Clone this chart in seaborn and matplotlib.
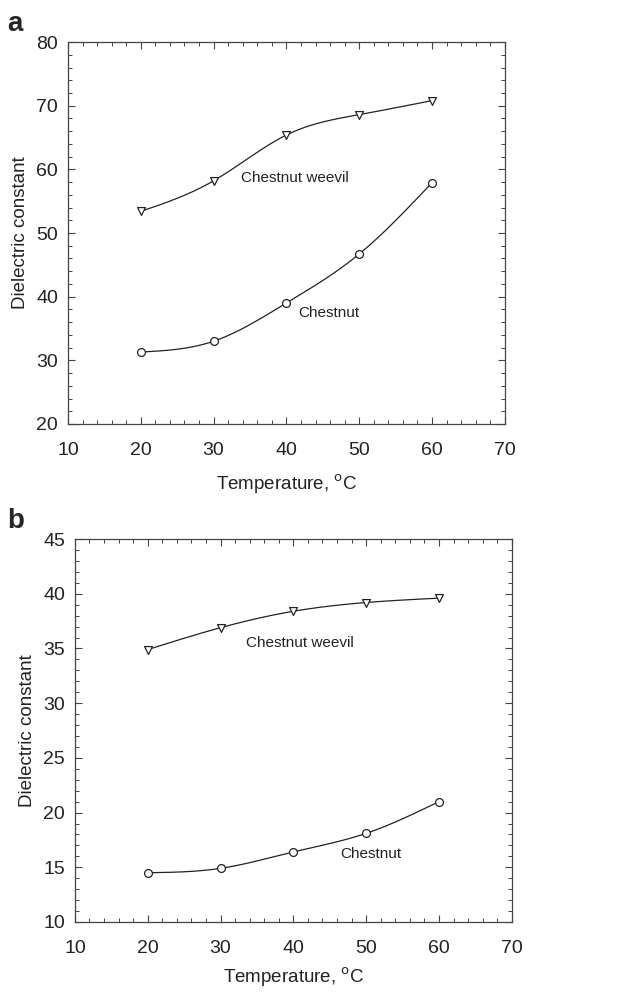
import matplotlib
matplotlib.use("Agg")
import matplotlib.pyplot as plt
import numpy as np
import pandas as pd
import seaborn as sns
from matplotlib.ticker import MultipleLocator

# temperature, deg C
temps = [20, 30, 40, 50, 60]

# panel a
weevil_a = [53.4, 58.2, 65.4, 68.6, 70.8]
chestnut_a = [31.3, 33.0, 39.0, 46.7, 57.9]

# panel b
weevil_b = [34.9, 36.9, 38.4, 39.2, 39.6]
chestnut_b = [14.5, 14.9, 16.4, 18.1, 21.0]


def natural_spline(x, y, n=200):
    """Natural cubic spline through the measured points (for the drawn curve only)."""
    x = np.asarray(x, float)
    y = np.asarray(y, float)
    k = len(x)
    h = np.diff(x)
    A = np.zeros((k, k))
    r = np.zeros(k)
    A[0, 0] = A[-1, -1] = 1
    for i in range(1, k - 1):
        A[i, i - 1] = h[i - 1]
        A[i, i] = 2 * (h[i - 1] + h[i])
        A[i, i + 1] = h[i]
        r[i] = 3 * ((y[i + 1] - y[i]) / h[i] - (y[i] - y[i - 1]) / h[i - 1])
    c = np.linalg.solve(A, r)
    xs = np.linspace(x[0], x[-1], n)
    idx = np.clip(np.searchsorted(x, xs) - 1, 0, k - 2)
    dx = xs - x[idx]
    b = (y[idx + 1] - y[idx]) / h[idx] - h[idx] * (2 * c[idx] + c[idx + 1]) / 3
    d = (c[idx + 1] - c[idx]) / (3 * h[idx])
    ys = y[idx] + b * dx + c[idx] * dx ** 2 + d * dx ** 3
    return xs, ys


sns.set_style("ticks")
plt.rcParams["font.family"] = ["Liberation Sans", "DejaVu Sans"]

fig = plt.figure(figsize=(6.35, 9.92), dpi=100)
ax_a = fig.add_axes([0.107, 0.5726, 0.688, 0.385])
ax_b = fig.add_axes([0.118, 0.0706, 0.688, 0.386])

panels = [
    (ax_a, weevil_a, chestnut_a, (20, 80), 10, 2,
     (33.8, 58.6), (41.6, 37.4), 10),
    (ax_b, weevil_b, chestnut_b, (10, 45), 5, 1,
     (33.5, 35.5), (46.4, 16.2), 6),
]

for ax, weevil, chestnut, ylim, ymaj, ymin, pos_w, pos_c, xpad in panels:
    for vals, mk in [(weevil, "v"), (chestnut, "o")]:
        xs, ys = natural_spline(temps, vals)
        sns.lineplot(x=xs, y=ys, ax=ax, color="#222222", lw=0.9, sort=False)
        df = pd.DataFrame({"t": temps, "v": vals})
        sns.scatterplot(data=df, x="t", y="v", ax=ax, marker=mk, s=32,
                        facecolor="white", edgecolor="#222222", linewidth=0.9,
                        zorder=3)
    ax.set_xlim(10, 70)
    ax.set_ylim(*ylim)
    ax.xaxis.set_major_locator(MultipleLocator(10))
    ax.xaxis.set_minor_locator(MultipleLocator(2))
    ax.yaxis.set_major_locator(MultipleLocator(ymaj))
    ax.yaxis.set_minor_locator(MultipleLocator(ymin))
    ax.tick_params(which="both", direction="in", top=True, right=True,
                   color="#444444", labelsize=14, labelcolor="#222222")
    ax.tick_params(which="major", length=5, width=0.8)
    ax.tick_params(which="minor", length=3, width=0.7)
    ax.tick_params(axis="x", which="major", pad=13)
    ax.tick_params(axis="y", which="major", pad=7)
    for sp in ax.spines.values():
        sp.set_color("#444444")
        sp.set_linewidth(0.9)
    ax.set_xlabel("Temperature, $^{\\mathrm{o}}$C", fontsize=13.5,
                  color="#222222", labelpad=xpad)
    ax.set_ylabel("Dielectric constant", fontsize=13.5, color="#222222",
                  labelpad=5)
    ax.text(pos_w[0], pos_w[1], "Chestnut weevil", fontsize=11,
            color="#222222", va="center", ha="left")
    ax.text(pos_c[0], pos_c[1], "Chestnut", fontsize=11,
            color="#222222", va="center", ha="left")

fig.text(0.012, 0.976, "a", fontsize=20, fontweight="bold", va="center")
fig.text(0.012, 0.475, "b", fontsize=20, fontweight="bold", va="center")

fig.savefig("out.png", dpi=100)
